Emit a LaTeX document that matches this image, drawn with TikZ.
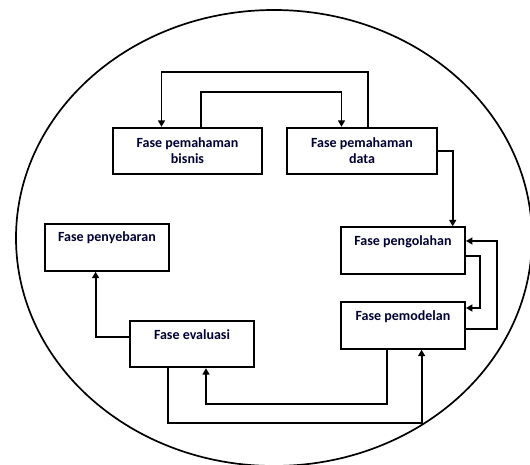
\documentclass[tikz,border=0pt]{standalone}
\usepackage{fontspec}
\setmainfont{Carlito}
\usetikzlibrary{arrows.meta}
\tikzset{
  box/.style={draw, line width=1.9pt, rectangle, minimum width=124pt, minimum height=46.5pt, inner sep=0pt},
  lbl/.style={font=\bfseries\fontsize{14pt}{16pt}\selectfont, text=black!80!blue, align=center},
  arr/.style={line width=1.9pt, -{Triangle[length=6.5pt,width=7pt]}},
}
\begin{document}
\begin{tikzpicture}[x=1pt,y=-1pt]
\useasboundingbox (0,0) rectangle (530,465);
\draw[line width=1.7pt] (274,238) ellipse [x radius=258pt, y radius=228pt];

\node[box, minimum width=149pt, lbl] (bisnis) at (187.5,151) {Fase pemahaman\\bisnis};
\node[box, minimum width=149.5pt, lbl] (data) at (362,151) {Fase pemahaman\\data};
\node[box] (olah) at (403,250.5) {};
\node[lbl, anchor=center] (olahT) at ([yshift=-15pt]olah.north) {Fase pengolahan};
\node[box] (model) at (403,325.5) {};
\node[lbl, anchor=center] (modelT) at ([yshift=-15.5pt]model.north) {Fase pemodelan};
\node[box] (sebar) at (107,247.5) {};
\node[lbl, anchor=center] (sebarT) at ([yshift=-14.5pt]sebar.north) {Fase penyebaran};
\node[box] (eval) at (192,344) {};
\node[lbl, anchor=center] (evalT) at ([yshift=-14.5pt]eval.north) {Fase evaluasi};

% top loops
\draw[arr] ([xshift=6pt]data.north) -- ++(0,-55) -| ([xshift=-26pt]bisnis.north);
\draw[arr] ([xshift=13.2pt]bisnis.north) -- ++(0,-34.4) -| ([xshift=-20.5pt]data.north);
% data -> pengolahan
\draw[arr] (data.east) -| ([xshift=49.7pt]olah.north);
% pengolahan <-> pemodelan
\draw[arr] ([yshift=-5.2pt]olah.east) -- ++(14,0) |- ([yshift=17.5pt]model.east);
\draw[arr] ([yshift=-3.9pt]model.east) -- ++(31,0) |- ([yshift=9.5pt]olah.east);
% pemodelan <-> evaluasi
\draw[arr] ([xshift=-16pt]model.south) -- ++(0,54) -| ([xshift=14pt]eval.south);
\draw[arr] ([xshift=-24pt]eval.south) -- ++(0,55) -| ([xshift=18.6pt]model.south);
% evaluasi -> penyebaran
\draw[arr] ([yshift=7pt]eval.west) -| ([xshift=-11.4pt]sebar.south);
\end{tikzpicture}
\end{document}
